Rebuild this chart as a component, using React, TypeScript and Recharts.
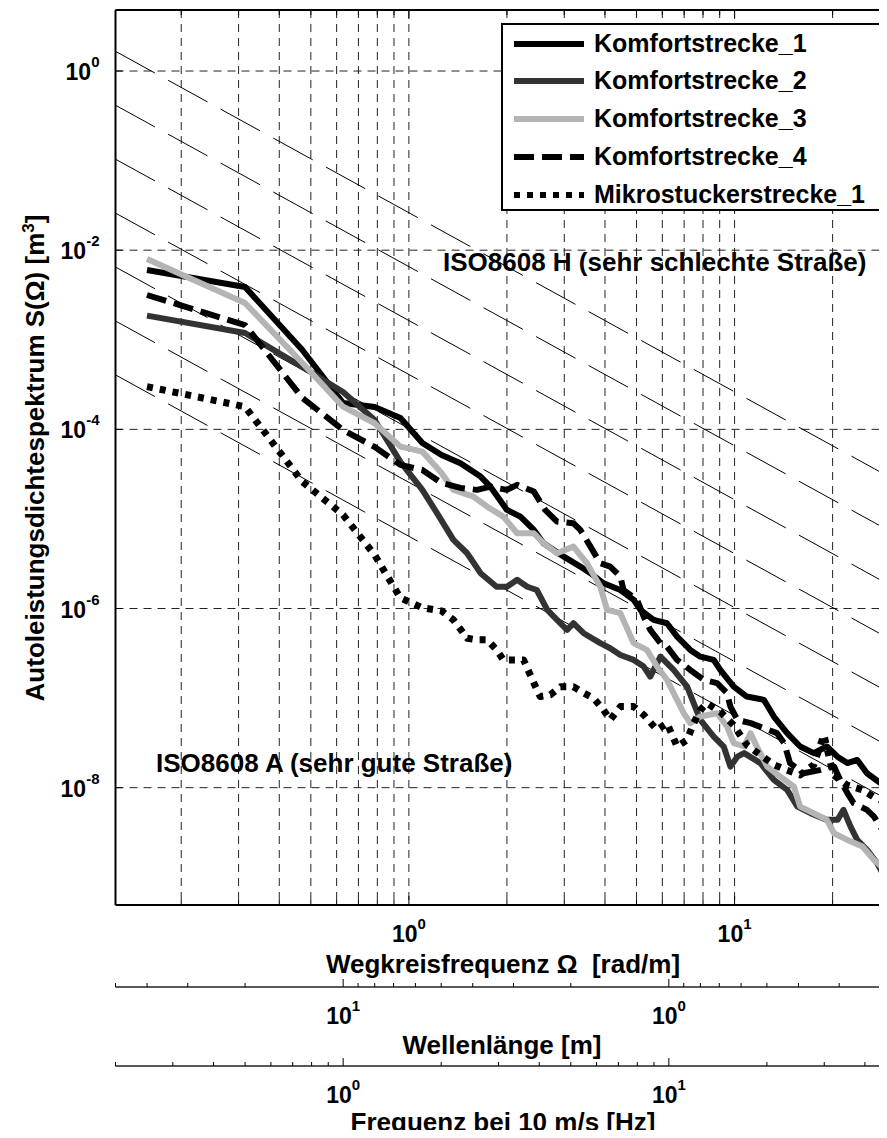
import React from 'react';
import { ComposedChart, Line, XAxis, YAxis, CartesianGrid, Legend } from 'recharts';

const FONT = "'Liberation Sans', Arial, Helvetica, sans-serif";
const TWO_PI = 2 * Math.PI;

// Wegkreisfrequenz range = wavelengths 50 m ... 0.2 m
const OMEGA_DOMAIN = [TWO_PI / 50, TWO_PI / 0.2];
const S_DOMAIN = [4.9e-10, 4.8];

const OMEGA_TICKS = [0.2, 0.3, 0.4, 0.5, 0.6, 0.7, 0.8, 0.9, 1, 2, 3, 4, 5, 6, 7, 8, 9, 10, 20, 30];
const S_TICKS = [1e-8, 1e-6, 1e-4, 1e-2, 1];
const LAMBDA_TICKS = [50, 40, 30, 20, 10, 9, 8, 7, 6, 5, 4, 3, 2, 1, 0.9, 0.8, 0.7, 0.6, 0.5, 0.4, 0.3, 0.2];
const FREQ_TICKS = [0.2, 0.3, 0.4, 0.5, 0.6, 0.7, 0.8, 0.9, 1, 2, 3, 4, 5, 6, 7, 8, 9, 10, 20, 30, 40, 50];
const SPEED = 10; // m/s

// ISO 8608 class limits, S at Omega = 1 rad/m (waviness 2)
const ISO_LEVELS = [6.4e-6, 2.56e-5, 1.024e-4, 4.096e-4, 1.638e-3, 6.554e-3, 2.621e-2];

// [Omega rad/m, S m^3]
const K1 = [
  [0.157, 6.01e-3], [0.314, 3.88e-3], [0.471, 7.69e-4], [0.628, 1.97e-4], [0.785, 1.78e-4],
  [0.942, 1.34e-4], [1.10, 7.05e-5], [1.26, 5.18e-5], [1.44, 4.18e-5], [1.66, 2.97e-5],
  [1.78, 2.29e-5], [2.00, 1.26e-5], [2.20, 1.06e-5], [2.42, 7.54e-6], [2.59, 5.36e-6],
  [2.99, 3.79e-6], [3.36, 2.94e-6], [3.61, 2.48e-6], [3.96, 1.91e-6], [4.46, 1.61e-6],
  [4.90, 1.25e-6], [5.14, 9.64e-7], [5.64, 7.46e-7], [6.20, 6.85e-7], [6.66, 4.86e-7],
  [7.31, 3.45e-7], [7.85, 2.90e-7], [8.63, 2.67e-7], [9.04, 2.06e-7], [9.94, 1.34e-7],
  [10.9, 1.04e-7], [12.3, 9.55e-8], [13.2, 6.22e-8], [14.5, 4.06e-8], [15.9, 2.88e-8],
  [17.5, 2.43e-8], [19.2, 2.88e-8], [20.7, 2.22e-8], [22.2, 1.88e-8], [23.8, 2.04e-8],
  [25.5, 1.45e-8], [28.1, 1.12e-8], [30.1, 8.97e-9],
];

const K2 = [
  [0.157, 1.86e-3], [0.314, 1.19e-3], [0.471, 4.97e-4], [0.628, 2.61e-4], [0.785, 1.27e-4],
  [0.942, 4.33e-5], [1.10, 2.11e-5], [1.22, 1.16e-5], [1.37, 5.83e-6], [1.51, 4.14e-6],
  [1.66, 2.48e-6], [1.86, 1.75e-6], [2.00, 1.75e-6], [2.15, 2.09e-6], [2.31, 1.75e-6],
  [2.47, 1.61e-6], [2.66, 9.64e-7], [2.85, 7.46e-7], [3.06, 5.77e-7], [3.20, 6.85e-7],
  [3.44, 5.30e-7], [3.87, 4.10e-7], [4.15, 3.60e-7], [4.46, 3.03e-7], [4.90, 2.67e-7],
  [5.26, 2.25e-7], [5.51, 1.74e-7], [5.92, 2.90e-7], [6.50, 2.06e-7], [7.15, 1.34e-7],
  [7.49, 8.77e-8], [7.85, 5.71e-8], [8.63, 3.72e-8], [9.26, 2.88e-8], [9.71, 1.72e-8],
  [10.2, 2.22e-8], [10.7, 2.43e-8], [12.0, 1.88e-8], [13.2, 1.22e-8], [14.5, 9.45e-9],
  [15.6, 6.15e-9], [17.1, 5.19e-9], [19.2, 4.37e-9], [20.7, 4.37e-9], [21.6, 5.65e-9],
  [22.7, 3.68e-9], [23.8, 2.61e-9], [25.5, 2.02e-9], [27.4, 1.44e-9], [29.5, 8.6e-10],
  [30.6, 7.6e-10],
];

const K3 = [
  [0.157, 7.97e-3], [0.314, 2.57e-3], [0.471, 5.51e-4], [0.628, 1.79e-4], [0.785, 1.17e-4],
  [0.942, 6.41e-5], [1.10, 5.64e-5], [1.26, 3.26e-5], [1.37, 2.11e-5], [1.58, 1.77e-5],
  [1.74, 1.37e-5], [1.95, 1.06e-5], [2.15, 6.92e-6], [2.42, 6.92e-6], [2.59, 5.36e-6],
  [2.85, 4.14e-6], [3.20, 4.91e-6], [3.52, 3.20e-6], [3.87, 1.75e-6], [4.06, 9.64e-7],
  [4.46, 8.87e-7], [4.90, 4.10e-7], [5.38, 3.45e-7], [5.78, 2.25e-7], [6.20, 1.60e-7],
  [6.66, 9.55e-8], [6.98, 6.78e-8], [7.31, 5.25e-8], [7.85, 6.22e-8], [8.84, 6.78e-8],
  [9.48, 4.81e-8], [9.94, 3.14e-8], [10.7, 2.88e-8], [11.2, 4.06e-8], [11.7, 2.88e-8],
  [12.6, 1.72e-8], [13.8, 1.33e-8], [15.2, 1.03e-8], [15.9, 6.15e-9], [17.5, 5.19e-9],
  [19.2, 4.37e-9], [20.2, 3.10e-9], [22.2, 2.61e-9], [24.7, 2.20e-9], [26.8, 1.56e-9],
  [29.4, 1.16e-9], [30.6, 1.04e-9],
];

const K4 = [
  [0.157, 3.16e-3], [0.314, 1.46e-3], [0.471, 2.24e-4], [0.628, 9.85e-5], [0.785, 6.37e-5],
  [0.942, 4.01e-5], [1.10, 3.52e-5], [1.26, 2.52e-5], [1.44, 2.22e-5], [1.62, 2.11e-5],
  [1.78, 2.29e-5], [2.00, 2.11e-5], [2.15, 2.40e-5], [2.42, 2.02e-5], [2.62, 1.26e-5],
  [2.85, 9.33e-6], [3.20, 8.95e-6], [3.36, 7.54e-6], [3.61, 4.91e-6], [3.87, 3.20e-6],
  [4.15, 2.94e-6], [4.46, 2.27e-6], [4.56, 1.61e-6], [5.02, 1.25e-6], [5.26, 8.12e-7],
  [5.51, 5.77e-7], [5.92, 4.10e-7], [6.20, 3.76e-7], [6.66, 2.67e-7], [7.31, 2.06e-7],
  [8.04, 1.60e-7], [8.84, 1.47e-7], [9.48, 1.14e-7], [9.71, 8.04e-8], [10.2, 5.71e-8],
  [11.2, 5.25e-8], [13.5, 4.06e-8], [14.2, 3.14e-8], [14.8, 1.88e-8], [16.3, 1.45e-8],
  [18.4, 1.58e-8], [20.2, 1.72e-8], [21.1, 1.22e-8], [22.2, 8.69e-9], [23.2, 6.71e-9],
  [25.5, 5.65e-9], [26.8, 4.75e-9], [28.4, 3.38e-9], [30.1, 2.9e-9],
];

const MIKRO = [
  [0.157, 3.0e-4], [0.314, 1.79e-4], [0.471, 2.6e-5], [0.628, 1.11e-5], [0.785, 3.96e-6],
  [0.942, 1.31e-6], [1.10, 1.02e-6], [1.26, 9.4e-7], [1.37, 7.46e-7], [1.51, 4.66e-7],
  [1.62, 4.47e-7], [1.74, 4.47e-7], [1.86, 3.45e-7], [1.95, 2.67e-7], [2.10, 2.67e-7],
  [2.25, 2.67e-7], [2.42, 1.47e-7], [2.53, 1.04e-7], [2.72, 1.09e-7], [2.92, 1.34e-7],
  [3.20, 1.34e-7], [3.44, 1.14e-7], [3.69, 9.97e-8], [3.96, 7.38e-8], [4.15, 5.71e-8],
  [4.46, 8.04e-8], [4.90, 8.04e-8], [5.26, 6.49e-8], [5.78, 4.42e-8], [6.20, 5.25e-8],
  [6.66, 2.88e-8], [7.15, 3.41e-8], [7.49, 5.25e-8], [7.85, 7.38e-8], [8.23, 8.77e-8],
  [9.04, 7.02e-8], [9.92, 5.02e-8], [10.9, 3.0e-8], [12.0, 2.32e-8], [13.2, 1.80e-8],
  [14.4, 1.58e-8], [15.9, 1.39e-8], [17.5, 1.80e-8], [18.8, 3.88e-8], [20.1, 1.39e-8],
  [22.1, 1.07e-8], [24.7, 9.45e-9], [26.7, 7.89e-9], [30.6, 6.43e-9],
];

const SERIES = [
  { name: 'Komfortstrecke_1', points: K1, color: '#000000', width: 6, dash: undefined },
  { name: 'Komfortstrecke_2', points: K2, color: '#333333', width: 6, dash: undefined },
  { name: 'Komfortstrecke_3', points: K3, color: '#b4b4b4', width: 6, dash: undefined },
  { name: 'Komfortstrecke_4', points: K4, color: '#000000', width: 6, dash: '20 8' },
  { name: 'Mikrostuckerstrecke_1', points: MIKRO, color: '#000000', width: 7, dash: '6 7' },
];

const toPoints = (pairs: number[][]) => pairs.map(([omega, s]) => ({ omega, s }));

// reference lines S = level * Omega^-2 over the plotted range
const isoLines = ISO_LEVELS.map((level) => OMEGA_DOMAIN.map((omega) => ({ omega, s: level / (omega * omega) })));
// every x axis shares the Omega scale; spread the ISO lines over them so each axis owns a series
const ISO_AXIS = ['lambda', 'v10', 'top', 0, 0, 0, 0];

const decadeExp = (v: number) => {
  const e = Math.round(Math.log10(v));
  return Math.abs(Math.log10(v) - e) < 1e-6 ? e : null;
};

const PowerLabel = ({ x, y, exp, anchor }: any) => (
  <text x={x} y={y} textAnchor={anchor} fontFamily={FONT} fontWeight="bold" fontSize={23} fill="#000">
    10
    <tspan dy={-13} fontSize={15}>{String(exp)}</tspan>
  </text>
);

// bottom axes: ticks point up from the axis line, labels only at decades
const bottomTick = (minorLen: number, majorLen: number, conv: (w: number) => number) => (props: any) => {
  const { x, y, payload } = props;
  const exp = decadeExp(conv(payload.value));
  const len = exp === null ? minorLen : majorLen;
  return (
    <g>
      <line x1={x} x2={x} y1={y} y2={y - len} stroke="#000" strokeWidth={1} />
      {exp !== null && <PowerLabel x={x} y={y + 37} exp={exp} anchor="middle" />}
    </g>
  );
};

const topTick = (props: any) => {
  const { x, y, payload } = props;
  const len = decadeExp(payload.value) === null ? 5 : 9;
  return <line x1={x} x2={x} y1={y} y2={y + len} stroke="#000" strokeWidth={1} />;
};

const leftTick = (props: any) => {
  const { x, y, payload } = props;
  return (
    <g>
      <line x1={x} x2={x + 7} y1={y} y2={y} stroke="#000" strokeWidth={1} />
      <PowerLabel x={x - 16} y={y + 9} exp={decadeExp(payload.value)} anchor="end" />
    </g>
  );
};

const LegendBox = (props: any) => {
  const entries = props.payload || [];
  return (
    <div
      style={{
        boxSizing: 'border-box',
        width: 384,
        height: 188,
        border: '2px solid #000',
        background: '#fff',
      }}
    >
      {entries.map((entry: any) => {
        const st = SERIES.find((s) => s.name === entry.value);
        if (!st) return null;
        return (
          <div key={entry.value} style={{ display: 'flex', alignItems: 'center', height: 37.8 }}>
            <svg width={91} height={12} style={{ flex: 'none' }}>
              <line x1={11} x2={81} y1={6} y2={6} stroke={st.color} strokeWidth={6} strokeDasharray={st.dash} />
            </svg>
            <span style={{ fontFamily: FONT, fontWeight: 'bold', fontSize: 25, lineHeight: '37.8px', color: '#000' }}>
              {entry.value}
            </span>
          </div>
        );
      })}
    </div>
  );
};

const omegaAxisProps = {
  dataKey: 'omega',
  type: 'number' as const,
  scale: 'log' as const,
  domain: OMEGA_DOMAIN,
  allowDataOverflow: true,
  interval: 0,
  tickSize: 0,
  tickMargin: 0,
  tickLine: false,
};

export default function App() {
  return (
    <div style={{ position: 'relative', width: 887, height: 1138, overflow: 'hidden', margin: -8, background: '#fff' }}>
      <ComposedChart width={900} height={1138} margin={{ top: 0, right: 3.5, bottom: 0, left: 0 }}>
        <CartesianGrid stroke="#222" strokeDasharray="8 6" strokeWidth={1} />
        <XAxis
          {...omegaAxisProps}
          ticks={OMEGA_TICKS}
          height={82}
          axisLine={{ stroke: '#000', strokeWidth: 2 }}
          tick={bottomTick(5, 9, (w) => w)}
        />
        <XAxis
          {...omegaAxisProps}
          xAxisId="lambda"
          ticks={LAMBDA_TICKS.map((l) => TWO_PI / l)}
          height={79}
          axisLine={{ stroke: '#222', strokeWidth: 1.3 }}
          tick={bottomTick(4, 8, (w) => TWO_PI / w)}
        />
        <XAxis
          {...omegaAxisProps}
          xAxisId="v10"
          ticks={FREQ_TICKS.map((f) => (f * TWO_PI) / SPEED)}
          height={72}
          axisLine={{ stroke: '#222', strokeWidth: 1.3 }}
          tick={bottomTick(4, 8, (w) => (w * SPEED) / TWO_PI)}
        />
        <XAxis
          {...omegaAxisProps}
          xAxisId="top"
          orientation="top"
          ticks={OMEGA_TICKS}
          height={10}
          axisLine={{ stroke: '#000', strokeWidth: 2 }}
          tick={topTick}
        />
        <YAxis
          type="number"
          scale="log"
          domain={S_DOMAIN}
          allowDataOverflow
          ticks={S_TICKS}
          interval={0}
          width={115.5}
          tickSize={0}
          tickMargin={0}
          tickLine={false}
          axisLine={{ stroke: '#000', strokeWidth: 2 }}
          tick={leftTick}
        />
        {isoLines.map((pts, i) => (
          <Line
            key={`iso-${i}`}
            xAxisId={ISO_AXIS[i]}
            data={pts}
            dataKey="s"
            stroke="#000"
            strokeWidth={1}
            strokeDasharray="45 15"
            dot={false}
            activeDot={false}
            legendType="none"
            isAnimationActive={false}
          />
        ))}
        {SERIES.map((s) => (
          <Line
            key={s.name}
            name={s.name}
            data={toPoints(s.points)}
            dataKey="s"
            stroke={s.color}
            strokeWidth={s.width}
            strokeDasharray={s.dash}
            strokeLinejoin="round"
            dot={false}
            activeDot={false}
            isAnimationActive={false}
          />
        ))}
        <Legend
          layout="vertical"
          align="center"
          verticalAlign="middle"
          wrapperStyle={{ left: 501, top: 22.7, width: 384, height: 188 }}
          content={LegendBox}
        />
      </ComposedChart>
      <svg
        width={887}
        height={1138}
        style={{ position: 'absolute', left: 0, top: 0, pointerEvents: 'none' }}
        fontFamily={FONT}
        fontWeight="bold"
        fill="#000"
        fontSize={26}
      >
        <text x={443} y={271}>ISO8608 H (sehr schlechte Straße)</text>
        <text x={156} y={772}>ISO8608 A (sehr gute Straße)</text>
        <text x={503} y={973} textAnchor="middle">Wegkreisfrequenz Ω{'\u00a0'} [rad/m]</text>
        <text x={502} y={1054} textAnchor="middle">Wellenlänge [m]</text>
        <text x={503} y={1131} textAnchor="middle">Frequenz bei 10 m/s [Hz]</text>
        <text transform="rotate(-90)" x={-458} y={44} textAnchor="middle">
          Autoleistungsdichtespektrum S(Ω) [m
          <tspan dy={-10} fontSize={17}>3</tspan>
          <tspan dy={10}>]</tspan>
        </text>
      </svg>
    </div>
  );
}
